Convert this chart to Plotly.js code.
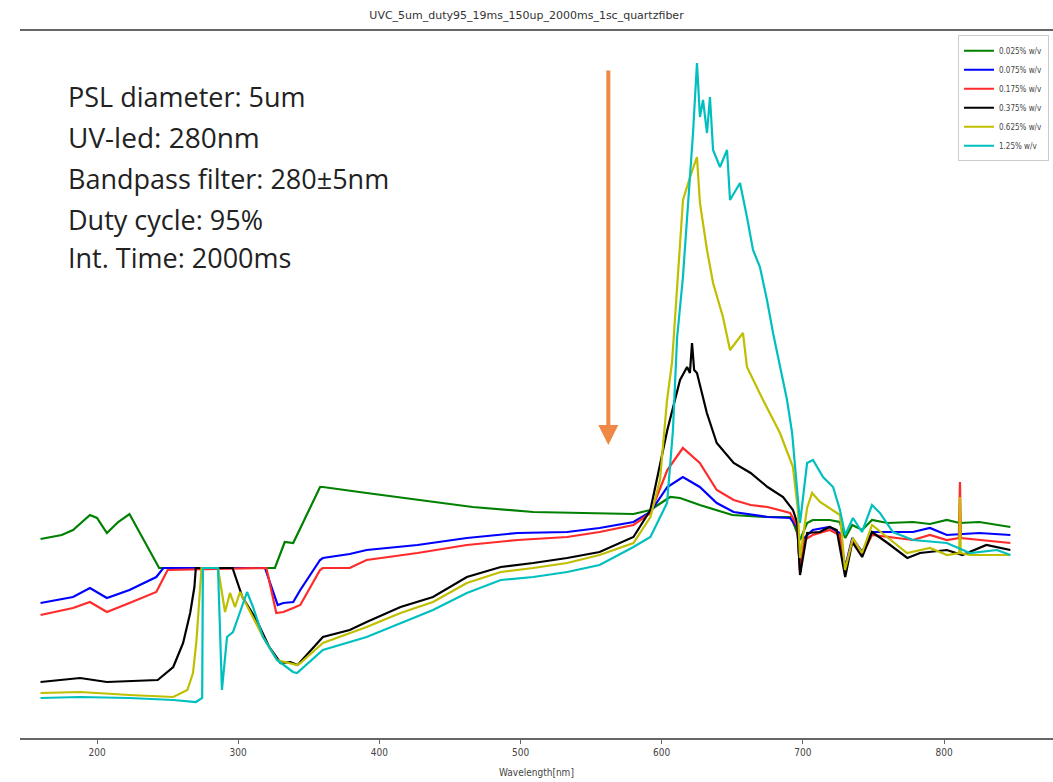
<!DOCTYPE html>
<html>
<head>
<meta charset="utf-8">
<script src="https://cdn.plot.ly/plotly-3.0.1.min.js"></script>
<style>html,body{margin:0;padding:0;background:#fff;}#chart{width:1053px;height:782px;}</style>
</head>
<body>
<div id="chart"></div>
<script>
// Legend labels
const seriesNames = ["0.025% w/v", "0.075% w/v", "0.175% w/v", "0.375% w/v", "0.625% w/v", "1.25% w/v"];

// 0.025% w/v (green)
const wlGreen = [160,175,183,195,200,207,215,223,244,326,333,339,358,360,391,438,466,509,556,580,592,606,613,627,650,675,691,693,698,703,707,719,726,730,735,742,749,760,778,790,802,811,825,847];
const inGreen = [199,203,208,223,220,205,216,224,170,170,196,195,251,251,245,236,231,226,225,224,228,241,240,233,223,221,221,216,198,215,218,218,216,200,213,208,218,215,216,214,218,215,216,211];

// 0.075% w/v (blue)
const wlBlue = [160,183,195,207,223,242,247,319,328,332,339,344,358,360,379,391,427,462,498,533,556,580,592,604,615,627,639,651,675,691,696,698,701,707,719,726,730,735,742,749,760,778,790,802,825,847];
const inBlue = [135,141,150,140,148,161,170,170,133,135,136,148,178,180,184,188,193,200,205,206,210,216,226,251,261,251,235,226,221,220,211,168,200,208,211,205,171,200,186,206,206,206,210,203,205,203];

// 0.175% w/v (red)
const wlRed = [160,183,195,207,223,242,250,320,327,332,339,344,358,360,379,391,427,462,498,533,556,580,592,604,615,627,639,651,663,675,691,696,698,701,707,719,726,730,735,742,749,760,778,790,802,810.5,811.3,812,825,847];
const inRed = [123,130,136,126,135,146,168,170,125,126,130,133,168,170,170,178,185,193,198,201,206,213,225,268,290,275,248,238,233,231,225,212,165,198,203,208,203,168,198,183,203,201,198,203,198,200,256,200,198,195];

// 0.375% w/v (black)
const wlBlack = [160,188,207,243,254,261,266,269,270,296,303,313,322,330,337,342,344,358,360,379,391,415,438,462,486,509,533,556,580,592,604,613,618,620,621.5,623,625,632,639,651,663,675,686,693,696,698,703,712,719,724,730,735,742,749,760,774,783,802,813,830,847];
const inBlack = [56,60,56,58,71,95,125,151,170,170,141,118,91,75,76,73,76,98,101,108,116,131,141,161,171,175,180,186,201,228,308,358,371,365,395,368,365,325,295,275,265,251,241,228,215,163,205,206,211,208,161,196,181,206,195,180,185,188,183,193,188];

// 0.625% w/v (yellow)
const wlYellow = [160,188,223,254,264,268,270.5,272.5,274,285.7,290.7,294.2,297.8,301.3,317.6,327.5,336.7,341.7,344,360,391,415,438,462,486,509,533,556,580,592,598.8,603.8,607.3,610.9,615.1,620.1,625,627.1,632.1,636.4,643.4,648.4,657.6,660.4,671.8,683.8,693,696.5,698,703,706.5,712.2,721.4,726.3,729.9,735.5,741.9,749,759.6,773.8,790.1,802.1,810.8,811.3,811.8,818.4,847];
const inYellow = [45,46,43,41,48,65,98,141,170,170,126,145,131,146,101,78,75,73,75,95,111,125,136,155,166,170,175,183,195,221,258,338,375,455,538,561,581,535,488,455,421,388,405,371,338,305,271,228,180,230,245,236,228,223,168,200,185,213,201,185,190,183,185,241,185,183,183];

// 1.25% w/v (cyan)
const wlCyan = [160,188,223,254,270,274.5,275,285.7,288.5,292.1,296.3,301.3,306.3,310.5,317.6,327.5,338.8,341.7,344,360,391,415,438,462,486,509,533,556,580,592,603.8,608,610.9,615,618,622.2,625,627.1,629.3,632.1,634.2,636.4,641.3,646.3,648.4,655.5,660.4,664.7,669.6,674.6,678.9,683.8,688.8,692.4,695.8,698,703,707.2,714.3,721.4,726.3,729.9,735.5,741.9,749,754.6,763.8,778,802,818.4,837.5,847];
const inCyan = [40,41,40,38,36,40,170,170,48,101,106,125,146,131,101,78,66,65,68,88,101,115,128,145,158,161,166,173,191,201,235,308,400,460,521,605,675,621,638,605,641,588,571,588,538,555,521,488,471,438,405,371,338,305,255,215,275,278,261,251,228,203,220,206,233,225,206,198,195,185,188,183];

// Axis ticks
const tickVals = [200, 300, 400, 500, 600, 700, 800];
const tickText = ["200", "300", "400", "500", "600", "700", "800"];

// Text block lines
const infoLines = ["PSL diameter: 5um", "UV-led: 280nm", "Bandpass filter: 280\u00b15nm", "Duty cycle: 95%", "Int. Time: 2000ms"];

const colors = ["#008000", "#0000ff", "#ff2a2a", "#000000", "#bfbf00", "#00bfbf"];
const xs = [wlGreen, wlBlue, wlRed, wlBlack, wlYellow, wlCyan];
const ys = [inGreen, inBlue, inRed, inBlack, inYellow, inCyan];

const traces = xs.map((x, i) => ({
  type: "scatter", mode: "lines", x: x, y: ys[i], name: seriesNames[i],
  line: {color: colors[i], width: 2.2}
}));

const infoY = [0.9067, 0.850, 0.792, 0.733, 0.679];
const infoSize = [27, 28, 27, 27, 27];
const annotations = infoLines.map((t, i) => ({
  xref: "paper", yref: "paper", x: 0.0445, y: infoY[i], xanchor: "left", yanchor: "middle",
  text: t, showarrow: false, font: {family: "Open Sans, sans-serif", size: infoSize[i], color: "#222"}
}));
annotations.push({
  xref: "x", yref: "y", x: 562.2, y: 293, ax: 0, ay: -376, text: "", showarrow: true,
  arrowhead: 2, arrowsize: 1, arrowwidth: 4, arrowcolor: "#ee8844", standoff: 0, startstandoff: 0
});

const layout = {
  width: 1053, height: 782,
  margin: {l: 20, r: 0, t: 31, b: 44},
  paper_bgcolor: "#fff", plot_bgcolor: "#fff",
  title: {text: "UVC_5um_duty95_19ms_150up_2000ms_1sc_quartzfiber", x: 0.5, xanchor: "center", y: 0.981, yanchor: "middle",
    font: {family: "DejaVu Sans, sans-serif", size: 11, color: "#333"}},
  showlegend: true,
  legend: {x: 0.908, y: 0.994, xanchor: "left", yanchor: "top", bgcolor: "#fff", bordercolor: "#ccc", borderwidth: 1,
    font: {family: "DejaVu Sans Condensed, DejaVu Sans, sans-serif", size: 8, color: "#444"}, itemwidth: 30},
  xaxis: {range: [145.45, 877.2], tickvals: tickVals, ticktext: tickText, ticks: "outside", ticklen: 4, tickcolor: "#666",
    showline: true, mirror: true, linecolor: "#666", linewidth: 2, showgrid: false, zeroline: false,
    tickfont: {family: "Liberation Sans Narrow, DejaVu Sans Condensed, sans-serif", size: 10, color: "#444"},
    title: {text: "Wavelength[nm]", font: {family: "Liberation Sans Narrow, DejaVu Sans Condensed, sans-serif", size: 10, color: "#444"}, standoff: 12}},
  yaxis: {range: [0, 707], visible: false, showgrid: false, zeroline: false},
  annotations: annotations
};

Plotly.newPlot("chart", traces, layout, {displayModeBar: false, staticPlot: true});
</script>
</body>
</html>
